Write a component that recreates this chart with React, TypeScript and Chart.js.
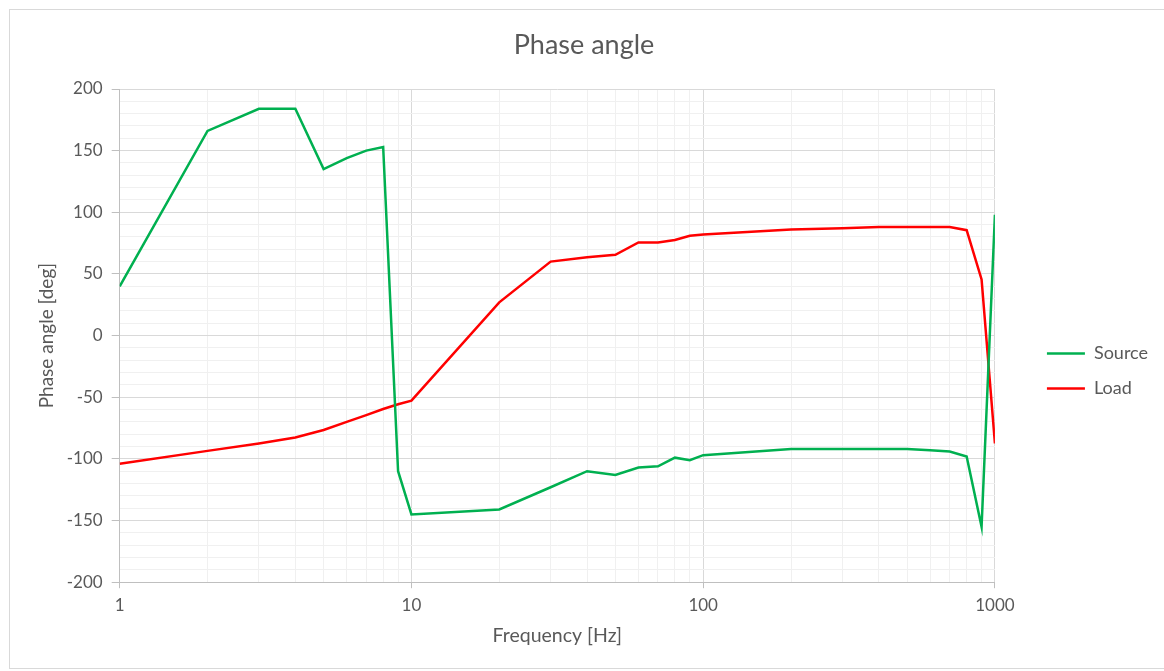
import React, { useEffect, useRef } from "react";
import { Chart, registerables } from "chart.js";

Chart.register(...registerables);

const frequencies = [1, 2, 3, 4, 5, 6, 7, 8, 9, 10, 20, 30, 40, 50, 60, 70, 80, 90, 100, 200, 300, 400, 500, 600, 700, 800, 900, 1000];
const sourceValues = [40, 166, 184, 184, 135, 144, 150, 153, -110, -145, -141, -123, -110, -113, -107, -106, -99, -101, -97, -92, -92, -92, -92, -93, -94, -98, -155, 98];
const loadValues = [-104, -93.5, -87.5, -82.6, -76.6, -70, -64.5, -59.5, -55.7, -52.8, 27, 60, 63.5, 65.5, 75.5, 75.5, 77.5, 81, 82, 86, 87, 88, 88, 88, 88, 85.5, 45.5, -87.5];
const xTickLabels = [1, 10, 100, 1000];
const xGridValues = [1, 2, 3, 4, 5, 6, 7, 8, 9, 10, 20, 30, 40, 50, 60, 70, 80, 90, 100, 200, 300, 400, 500, 600, 700, 800, 900, 1000];
const yLabelStep = 50;

const TEXT = "#595959";
const MAJOR = "#d9d9d9";
const MINOR = "#f0f0f0";
const AXIS = "#bfbfbf";

export default function App() {
  const ref = useRef<HTMLCanvasElement | null>(null);

  useEffect(() => {
    if (!ref.current) return;
    Chart.defaults.font.family = "Lato, 'Open Sans', sans-serif";
    const chart = new Chart(ref.current, {
      type: "line",
      data: {
        datasets: [
          {
            label: "Source",
            data: frequencies.map((f, i) => ({ x: f, y: sourceValues[i] })),
            borderColor: "#00B050",
            backgroundColor: "#00B050",
            borderWidth: 2.5,
            pointRadius: 0,
            tension: 0,
          },
          {
            label: "Load",
            data: frequencies.map((f, i) => ({ x: f, y: loadValues[i] })),
            borderColor: "#FF0000",
            backgroundColor: "#FF0000",
            borderWidth: 2.5,
            pointRadius: 0,
            tension: 0,
          },
        ],
      },
      options: {
        responsive: false,
        animation: false,
        layout: { padding: { left: 0, right: 6, top: 0, bottom: 21 } },
        plugins: {
          title: {
            display: true,
            text: "Phase angle",
            color: TEXT,
            font: { size: 27, weight: "normal" },
            padding: { top: 19, bottom: 27.6 },
          },
          legend: {
            position: "right",
            align: "center",
            title: { display: true, text: "", padding: { top: 0, bottom: 73 }, font: { size: 10 } },
            labels: {
              usePointStyle: true,
              pointStyle: "line",
              pointStyleWidth: 38,
              padding: 17,
              color: TEXT,
              font: { size: 18 },
            },
          },
          tooltip: { enabled: false },
        },
        scales: {
          x: {
            type: "logarithmic",
            min: 1,
            max: 1000,
            afterBuildTicks: (s: any) => {
              s.ticks = xGridValues.map((v) => ({ value: v, major: xTickLabels.includes(v) }));
            },
            ticks: {
              autoSkip: false,
              maxRotation: 0,
              minRotation: 0,
              padding: 7,
              color: TEXT,
              font: { size: 17 },
              callback: (v: any) => (xTickLabels.includes(Number(v)) ? String(v) : ""),
            },
            grid: {
              color: (c: any) => (c.tick && xTickLabels.includes(c.tick.value) ? MAJOR : MINOR),
              tickColor: (c: any) => (c.tick && xTickLabels.includes(c.tick.value) ? AXIS : "rgba(0,0,0,0)"),
              tickLength: 6,
            },
            border: { color: AXIS },
            title: {
              display: true,
              text: "Frequency [Hz]",
              color: TEXT,
              font: { size: 19.5 },
              padding: { top: 1, bottom: 0 },
            },
          },
          y: {
            type: "linear",
            min: -200,
            max: 200,
            ticks: {
              stepSize: 10,
              autoSkip: false,
              padding: 9,
              color: TEXT,
              font: { size: 17 },
              callback: (v: any) => (Number(v) % yLabelStep === 0 ? String(v) : ""),
            },
            grid: {
              color: (c: any) => (c.tick && c.tick.value % yLabelStep === 0 ? MAJOR : MINOR),
              tickColor: (c: any) => (c.tick && c.tick.value % yLabelStep === 0 ? AXIS : "rgba(0,0,0,0)"),
              tickLength: 8,
            },
            border: { color: AXIS },
            title: {
              display: true,
              text: "Phase angle [deg]",
              color: TEXT,
              font: { size: 19 },
              padding: { top: 25, bottom: 0 },
            },
          },
          yR: {
            type: "linear",
            position: "right",
            display: true,
            grid: { display: false, drawTicks: false, drawOnChartArea: false },
            ticks: { display: false },
            border: { display: false },
            afterFit: (s: any) => {
              s.width = 35;
            },
          },
        },
      },
    } as any);
    return () => chart.destroy();
  }, []);

  return (
    <div
      style={{
        position: "absolute",
        left: 9,
        top: 9,
        width: 1154,
        height: 658,
        borderLeft: "1px solid #d9d9d9",
        borderTop: "1px solid #d9d9d9",
        borderBottom: "1px solid #d9d9d9",
        background: "#fff",
      }}
    >
      <canvas ref={ref} width={1154} height={658} style={{ display: "block" }} />
    </div>
  );
}
